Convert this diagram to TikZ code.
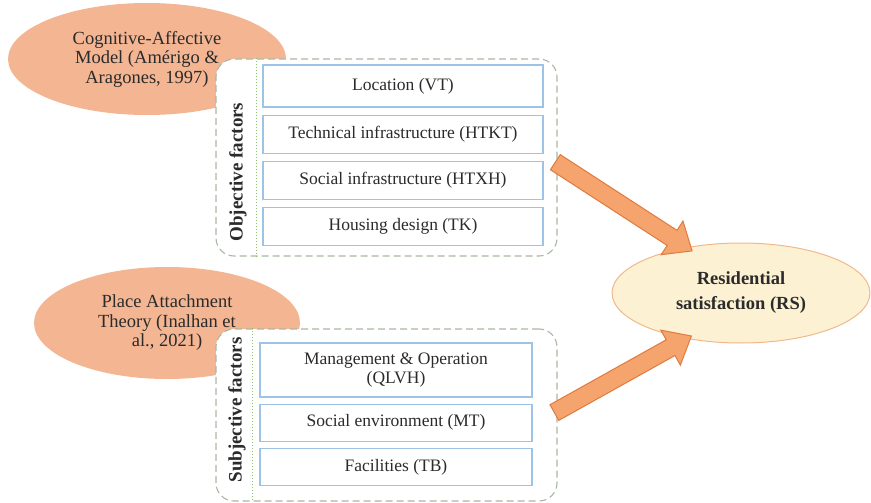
\documentclass[tikz,border=0pt]{standalone}
\usepackage{fontspec}
\setmainfont{Liberation Serif}
\usetikzlibrary{positioning, shapes.geometric, shapes.arrows}
\definecolor{peach}{HTML}{F3B592}
\definecolor{arrowfill}{HTML}{F4A46C}
\definecolor{arrowline}{HTML}{E07A3E}
\definecolor{rsfill}{HTML}{FDF1D3}
\definecolor{rsline}{HTML}{F0B98C}
\definecolor{boxline}{HTML}{9DC3E6}
\definecolor{groupline}{HTML}{A9B8A4}
\definecolor{dotline}{HTML}{8DBF6A}
\definecolor{ink}{HTML}{2B2B2B}

\begin{document}
\begin{tikzpicture}[x=1pt, y=-1pt, text=ink,
    theory/.style={ellipse, fill=peach, inner sep=0pt, align=center,
      font=\fontsize{18.5}{19.5}\selectfont},
    group/.style={draw=groupline, line width=1.1pt, dash pattern=on 7pt off 4pt,
      rounded corners=18pt, fill=white, minimum width=341pt},
    factor/.style={draw=boxline, line width=1.2pt, fill=white, align=center,
      inner sep=0pt, font=\fontsize{17.5}{18.5}\selectfont},
    side/.style={rotate=90, font=\fontsize{19}{19}\selectfont\bfseries},
    divider/.style={draw=dotline, line width=1pt, dotted},
    bigarrow/.style={single arrow, sloped, fill=arrowfill, draw=arrowline, line width=1pt,
      inner sep=8.5pt, single arrow head extend=11pt, single arrow tip angle=80}]
  \useasboundingbox (0,0) rectangle (871,503);

  \node[theory, minimum width=278pt, minimum height=112pt] (cam) at (147,59)
    {Cognitive-Affective\\Model (Amérigo \&\\Aragones, 1997)};
  \node[theory, minimum width=266pt, minimum height=112pt] (pat) at (167,323)
    {Place Attachment\\Theory (Inalhan et\\al., 2021)};

  \node[group, minimum height=197pt] (objgroup) at (386.5,157.5) {};
  \node[group, minimum height=172pt] (subjgroup) at (386.5,415) {};
  \draw[divider] ([xshift=41pt]objgroup.north west) -- ([xshift=41pt]objgroup.south west);
  \draw[divider] ([xshift=37pt]subjgroup.north west) -- ([xshift=37pt]subjgroup.south west);

  \node[side] (objlabel) at (238,172) {Objective factors};
  \node[side] (subjlabel) at (237,410) {Subjective factors};

  \node[factor, minimum width=280pt, minimum height=42pt] (vt) at (403,86) {Location (VT)};
  \node[factor, minimum width=280pt, minimum height=38pt, below=7pt of vt] (htkt)
    {Technical infrastructure (HTKT)};
  \node[factor, minimum width=280pt, minimum height=38pt, below=7pt of htkt] (htxh)
    {Social infrastructure (HTXH)};
  \node[factor, minimum width=280pt, minimum height=38pt, below=7pt of htxh] (tk)
    {Housing design (TK)};

  \node[factor, minimum width=272pt, minimum height=54pt] (qlvh) at (396,370)
    {Management \& Operation\\(QLVH)};
  \node[factor, minimum width=272pt, minimum height=37pt, below=6pt of qlvh] (mt)
    {Social environment (MT)};
  \node[factor, minimum width=272pt, minimum height=37pt, below=6pt of mt] (tb)
    {Facilities (TB)};

  \node[ellipse, fill=rsfill, draw=rsline, line width=1pt, minimum width=258pt,
    minimum height=100pt, align=center, font=\fontsize{18.5}{25}\selectfont\bfseries]
    (rs) at (741,293) {Residential\\satisfaction (RS)};

  \coordinate (objtail) at (552,160);
  \coordinate (subjtail) at (550,415);
  \path (objtail) -- node[bigarrow, minimum height=163pt] {} (rs.140);
  \path (subjtail) -- node[bigarrow, minimum height=157pt] {} (rs.220);
\end{tikzpicture}
\end{document}
